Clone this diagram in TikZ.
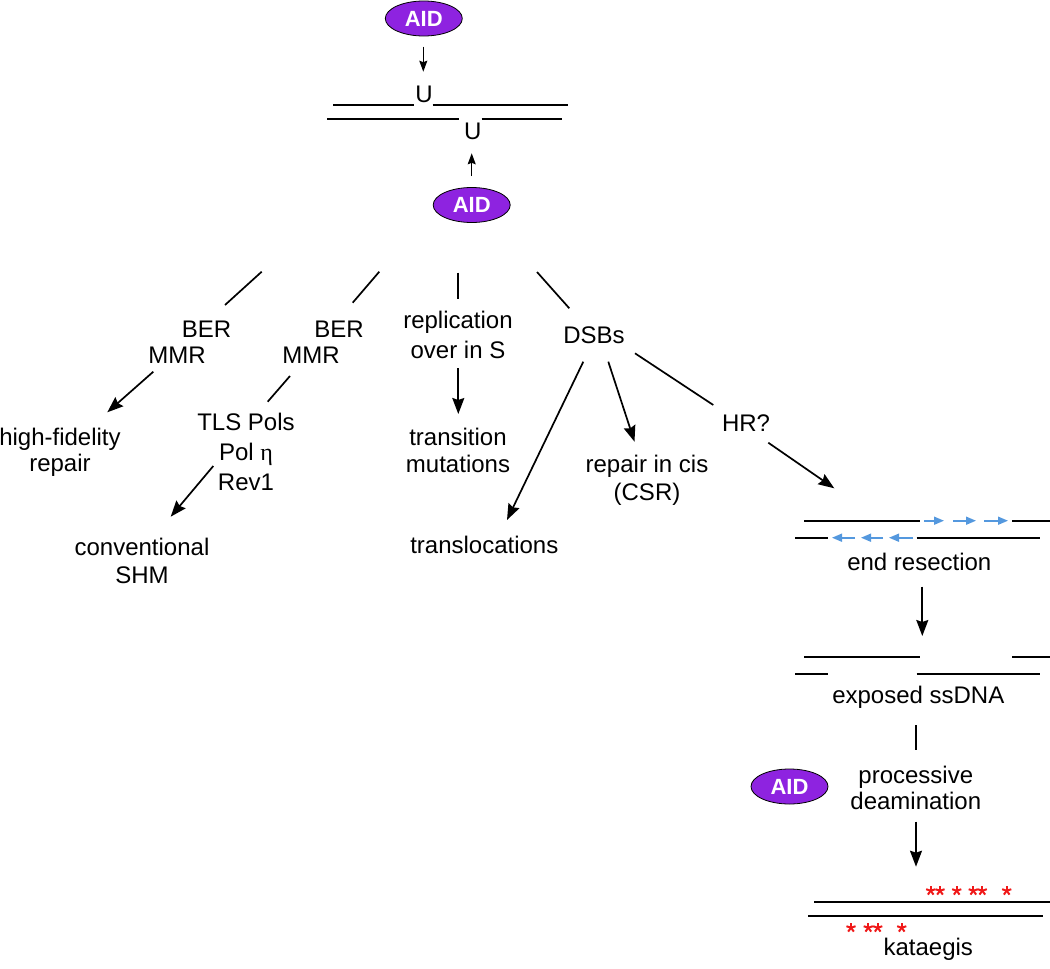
\documentclass[tikz,border=0pt]{standalone}
\usepackage{fontspec}
\setmainfont{Liberation Sans}
\newfontfamily\etafont{Liberation Serif}
\usetikzlibrary{arrows.meta,shapes.geometric}
\definecolor{aidpurple}{RGB}{142,35,224}
\definecolor{resblue}{RGB}{84,152,222}
\definecolor{katred}{RGB}{240,24,24}
\newcommand\ml[2]{{\fontsize{24}{#1}\selectfont\begin{tabular}[t]{@{}c@{}}#2\end{tabular}}}
\begin{document}
\begin{tikzpicture}[x=1pt,y=-1pt,
  lbl/.style={anchor=base, inner sep=0pt, font=\fontsize{24}{28}\selectfont},
  aid/.style={ellipse, draw=black, line width=0.8pt, fill=aidpurple, minimum width=77pt, minimum height=35pt, inner sep=0pt, text=white, font=\fontsize{22}{24}\selectfont\bfseries},
  ln/.style={line width=1.7pt},
  arr/.style={line width=1.7pt, -{Stealth[length=16pt,width=12pt,inset=2pt]}},
  sarr/.style={line width=1.2pt, -{Stealth[length=11pt,width=8pt,inset=1.5pt]}},
  barr/.style={resblue, line width=1.6pt, -{Stealth[length=10pt,width=8pt,inset=0pt]}},
  pics/kstar/.style={code={\foreach \a in {270,342,54,126,198} \draw[katred,line width=2pt] (0,0) -- (\a:4.8);}}
]
\useasboundingbox (0,0) rectangle (1050,969);

% top: AID and DNA with U
\node[aid] (aid1) at (423.8,18.5) {AID};
\node[aid] (aid2) at (471.7,205) {AID};
\node[aid] (aid3) at (789.5,786.5) {AID};
\node[lbl] (u1) at (424,102.7) {U};
\node[lbl] (u2) at (472.8,139.3) {U};
\coordinate (a1s) at (423.3,46.7); \coordinate (a1e) at (423.3,71.7);
\coordinate (a2s) at (471.7,176); \coordinate (a2e) at (471.7,153.3);
\draw[sarr] (a1s) -- (a1e);
\draw[sarr] (a2s) -- (a2e);
\coordinate (t1) at (333,105.3); \coordinate (t2) at (414.3,105.3);
\coordinate (t3) at (432.7,105.3); \coordinate (t4) at (568,105.3);
\coordinate (b1) at (327,118.7); \coordinate (b2) at (459.3,118.7);
\coordinate (b3) at (481.7,118.7); \coordinate (b4) at (562,118.7);
\draw[ln] (t1) -- (t2) (t3) -- (t4) (b1) -- (b2) (b3) -- (b4);

% labels
\node[lbl] (ber1) at (206.5,337) {BER};
\node[lbl] (mmr1) at (177,363.3) {MMR};
\node[lbl] (ber2) at (339,337) {BER};
\node[lbl] (mmr2) at (311,363.3) {MMR};
\node[lbl] (repl) at (458,328.3) {\ml{30}{replication\\over in S}};
\node[lbl] (dsb) at (594,343.3) {DSBs};
\node[lbl] (hf) at (60,445.7) {\ml{26}{high-fidelity\\repair}};
\node[lbl] (tls) at (246,430.7) {\ml{29.7}{TLS Pols\\Pol {\etafont η}\\Rev1}};
\node[lbl] (trans) at (458,445) {\ml{27.7}{transition\\mutations}};
\node[lbl] (csr) at (647,472.7) {\ml{27.3}{repair in cis\\(CSR)}};
\node[lbl] (hr) at (746,431.7) {HR?};
\node[lbl] (conv) at (142,555) {\ml{28}{conventional\\SHM}};
\node[lbl] (transloc) at (484.3,553.3) {translocations};
\node[lbl] (endres) at (919.3,570.7) {end resection};
\node[lbl] (exposed) at (918.3,703.3) {exposed ssDNA};
\node[lbl] (proc) at (915.8,783.3) {\ml{26}{processive\\deamination}};
\node[lbl] (kat) at (928.3,955) {kataegis};

% connectors
\coordinate (c1a) at (261.7,271.7); \coordinate (c1b) at (225,305);
\coordinate (c2a) at (379.3,271.7); \coordinate (c2b) at (352.7,302.7);
\coordinate (c3a) at (458.3,272.7); \coordinate (c3b) at (458.3,299.3);
\coordinate (c4a) at (537,272); \coordinate (c4b) at (569.3,308.3);
\draw[ln] (c1a) -- (c1b);
\draw[ln] (c2a) -- (c2b);
\draw[ln] (c3a) -- (c3b);
\draw[ln] (c4a) -- (c4b);
\coordinate (d1a) at (153.3,371.7); \coordinate (d1b) at (107.3,412.3);
\draw[arr] (d1a) -- (d1b);
\coordinate (d2a) at (290,376); \coordinate (d2b) at (267.7,401.7);
\draw[ln] (d2a) -- (d2b);
\coordinate (d3a) at (213.3,466); \coordinate (d3b) at (170.7,516.7);
\draw[arr] (d3a) -- (d3b);
\coordinate (d4a) at (458.3,368.3); \coordinate (d4b) at (458.3,414);
\draw[arr] (d4a) -- (d4b);
\coordinate (d5a) at (583.3,361.7); \coordinate (d5b) at (507,520);
\draw[arr] (d5a) -- (d5b);
\coordinate (d6a) at (608.3,361.7); \coordinate (d6b) at (634.5,441.7);
\draw[arr] (d6a) -- (d6b);
\coordinate (d7a) at (635,353.3); \coordinate (d7b) at (713.3,405);
\draw[ln] (d7a) -- (d7b);
\coordinate (d8a) at (768.3,442.7); \coordinate (d8b) at (834.3,488.3);
\draw[arr] (d8a) -- (d8b);
\coordinate (d9a) at (922.3,586.7); \coordinate (d9b) at (922.3,636);
\draw[arr] (d9a) -- (d9b);
\coordinate (d10a) at (915.7,725); \coordinate (d10b) at (915.7,750);
\draw[ln] (d10a) -- (d10b);
\coordinate (d11a) at (916,821.7); \coordinate (d11b) at (916,866.7);
\draw[arr] (d11a) -- (d11b);

% end resection strands
\draw[ln] (804,520.7) -- (920,520.7) (1012,520.7) -- (1050,520.7);
\draw[barr] (924,520.7) -- (944,520.7);
\draw[barr] (953,520.7) -- (976,520.7);
\draw[barr] (984,520.7) -- (1008,520.7);
\draw[ln] (795,537.7) -- (828.3,537.7) (916.7,537.7) -- (1040,537.7);
\draw[barr] (855,537.7) -- (832,537.7);
\draw[barr] (883,537.7) -- (861,537.7);
\draw[barr] (913,537.7) -- (889,537.7);

% exposed ssDNA strands
\draw[ln] (804,656.7) -- (920,656.7) (1012,656.7) -- (1050,656.7);
\draw[ln] (795,674) -- (828.3,674) (916.7,674) -- (1040,674);

% kataegis strands and mutations
\draw[ln] (814,901.7) -- (1050,901.7);
\draw[ln] (808.3,915.7) -- (1043.3,915.7);
\foreach \x in {930.7,940,956.7,973.3,982.3,1006.7} \pic at (\x,890.7) {kstar};
\foreach \x in {851,868.3,877.7,901.7} \pic at (\x,927.7) {kstar};
\end{tikzpicture}
\end{document}
